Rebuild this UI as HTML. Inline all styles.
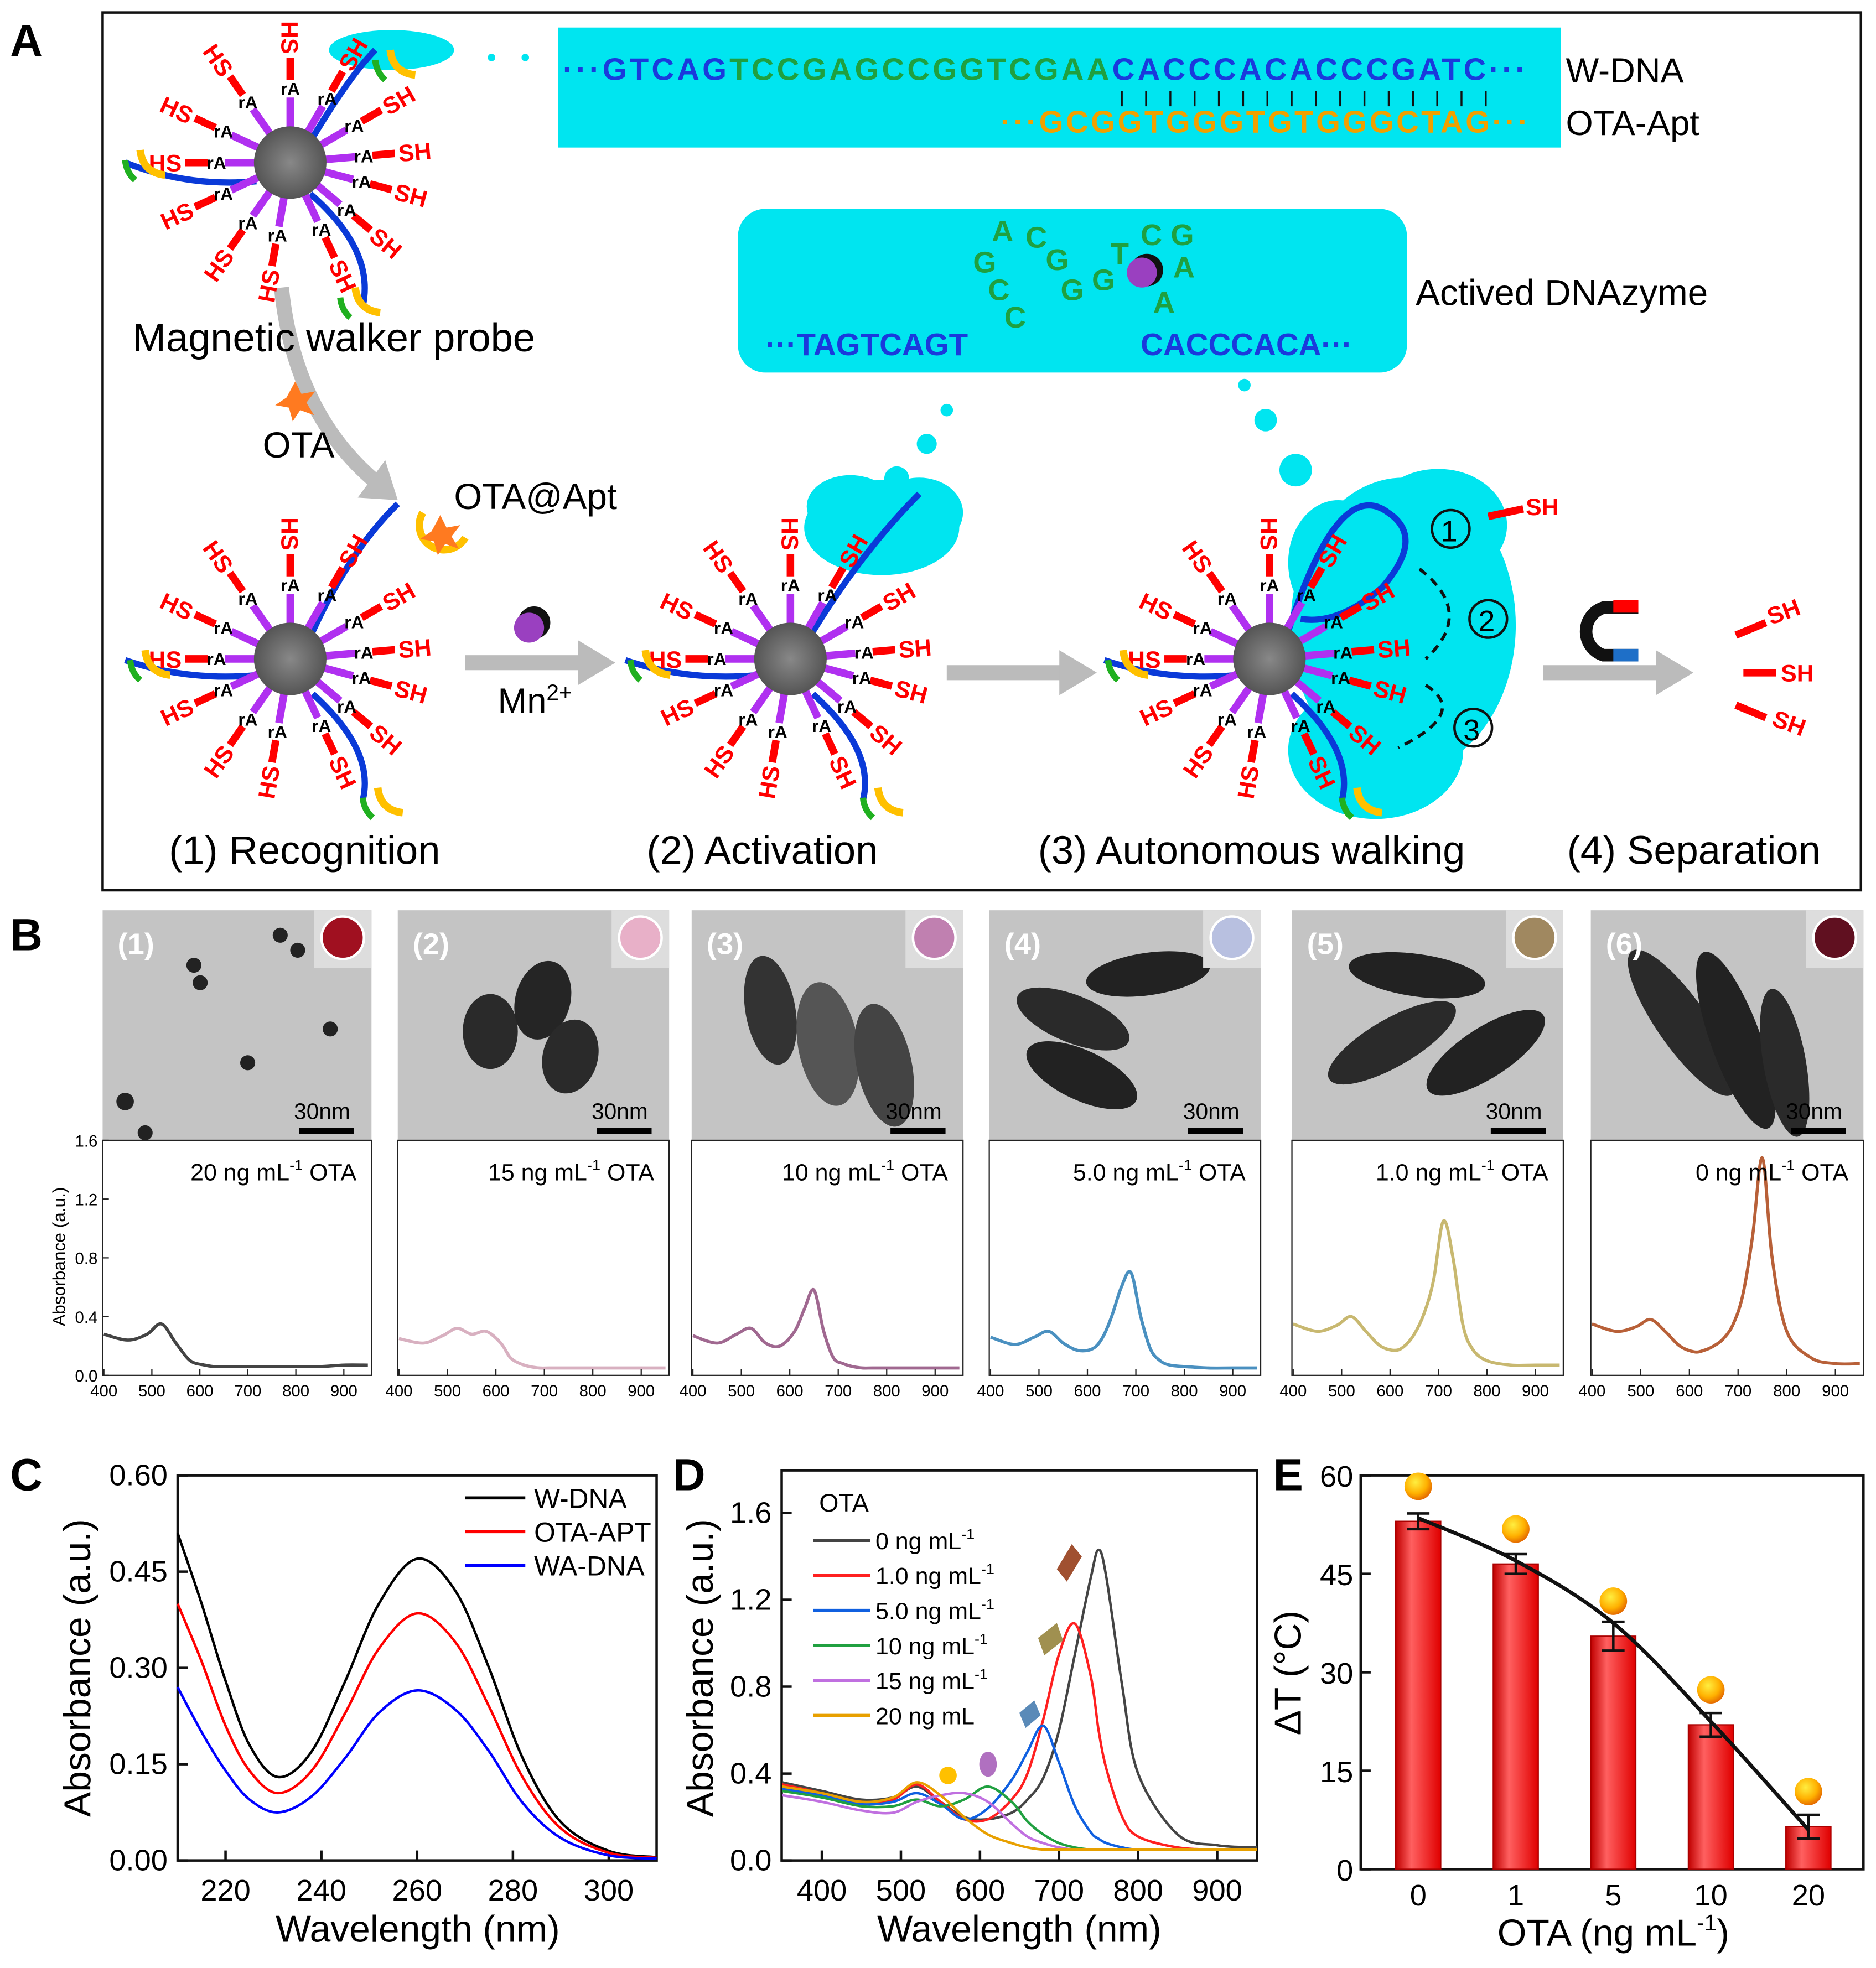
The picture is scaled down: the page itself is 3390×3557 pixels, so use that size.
<!DOCTYPE html>
<html><head><meta charset="utf-8"><style>
html,body{margin:0;padding:0;background:#fff}
svg{display:block}
text{font-family:"Liberation Sans",Arial,sans-serif}
</style></head><body>
<svg id="fig" width="3390" height="3557" viewBox="0 0 1500 1574" xmlns="http://www.w3.org/2000/svg">
<defs>
<radialGradient id="ball" cx="0.4" cy="0.35" r="0.7"><stop offset="0" stop-color="#ffee40"/><stop offset="0.6" stop-color="#ffb000"/><stop offset="1" stop-color="#e06000"/></radialGradient>
<linearGradient id="bar" x1="0" x2="1"><stop offset="0" stop-color="#c00000"/><stop offset="0.35" stop-color="#ff6060"/><stop offset="1" stop-color="#e00000"/></linearGradient>
<radialGradient id="np" cx="0.5" cy="0.5" r="0.5"><stop offset="0" stop-color="#888"/><stop offset="1" stop-color="#555"/></radialGradient>
</defs>
<g id="panelA">
<text x="8" y="45" font-size="36" font-weight="bold">A</text>
<rect x="82" y="10" width="1406" height="702" fill="none" stroke="#111" stroke-width="2"/>
<rect x="446" y="22" width="802" height="96" fill="#00e5f0"/>
<text x="450" y="64" font-size="25" font-weight="bold" textLength="770"><tspan fill="#1a3adc">···GTCAG</tspan><tspan fill="#1fa040">TCCGAGCCGGTCGAA</tspan><tspan fill="#1a3adc">CACCCACACCCGATC···</tspan></text>
<text x="800" y="106" font-size="25" font-weight="bold" fill="#f0a000" textLength="422">···GCGGTGGGTGTGGGCTAG···</text>
<g id="pairTicks" stroke="#111" stroke-width="1.5"></g>
<text x="1252" y="66" font-size="28">W-DNA</text>
<text x="1252" y="108" font-size="28">OTA-Apt</text>
<rect x="590" y="167" width="535" height="131" rx="22" fill="#00e5f0"/>
<text x="612" y="284" font-size="25" font-weight="bold" fill="#1a3adc">···TAGTCAGT</text>
<text x="912" y="284" font-size="25" font-weight="bold" fill="#1a3adc">CACCCACA···</text>
<g font-size="24" font-weight="bold" fill="#1fa040">
<text x="793" y="193">A</text><text x="820" y="198">C</text><text x="778" y="218">G</text><text x="836" y="216">G</text><text x="790" y="240">C</text><text x="848" y="240">G</text><text x="803" y="262">C</text><text x="873" y="232">G</text><text x="888" y="211">T</text><text x="912" y="196">C</text><text x="936" y="196">G</text><text x="938" y="222">A</text><text x="922" y="250">A</text>
</g>
<circle cx="917" cy="216" r="13" fill="#111"/><circle cx="913" cy="218" r="12" fill="#9a40c0"/>
<text x="1132" y="244" font-size="29">Actived DNAzyme</text>
<path d="M225,230 Q235,330 300,385" fill="none" stroke="#bbb" stroke-width="12"/><polygon points="286,398 318,400 308,368" fill="#bbb"/>
<text x="106" y="281" font-size="32">Magnetic walker probe</text>
<polygon points="236,305 241,315 252,313 245,322 251,332 240,328 234,337 231,326 220,324 229,318" fill="#ff7a20"/>
<text x="210" y="366" font-size="29">OTA</text>
<text x="363" y="407" font-size="29">OTA@Apt</text>
<path d="M338,410 A18,18 0 1,0 372,430" fill="none" stroke="#ffc000" stroke-width="6"/>
<polygon points="352,412 357,422 368,420 361,429 367,439 356,435 350,444 347,433 336,431 345,425" fill="#ff7a20"/>
<circle cx="427" cy="498" r="13" fill="#111"/><circle cx="423" cy="502" r="12" fill="#9a40c0"/>
<text x="398" y="570" font-size="28">Mn<tspan font-size="18" dy="-10">2+</tspan></text>
<g fill="#bbb">
<rect x="372" y="524" width="92" height="12"/><polygon points="462,512 492,530 462,548"/>
<rect x="757" y="532" width="92" height="12"/><polygon points="847,520 877,538 847,556"/>
<rect x="1234" y="532" width="92" height="12"/><polygon points="1324,520 1354,538 1324,556"/>
</g>
<g fill="#00e5f0">
<ellipse cx="313" cy="40" rx="50" ry="16"/>
<ellipse cx="705" cy="422" rx="62" ry="38"/><ellipse cx="680" cy="405" rx="35" ry="25"/><ellipse cx="735" cy="410" rx="35" ry="28"/>
<ellipse cx="1122" cy="500" rx="90" ry="118"/><ellipse cx="1100" cy="600" rx="70" ry="55"/><ellipse cx="1150" cy="420" rx="55" ry="45"/><ellipse cx="1070" cy="450" rx="40" ry="50"/>
<circle cx="393" cy="46" r="3"/><circle cx="420" cy="46" r="3"/><circle cx="757" cy="328" r="5"/><circle cx="741" cy="355" r="8"/><circle cx="717" cy="383" r="10"/>
<circle cx="995" cy="308" r="5"/><circle cx="1012" cy="336" r="9"/><circle cx="1036" cy="376" r="13"/>
</g>
<g id="particles"></g>
<g font-size="27">
<circle cx="1160" cy="423" r="15" fill="none" stroke="#111" stroke-width="2"/><text x="1152" y="433" font-size="24">1</text>
<circle cx="1190" cy="495" r="15" fill="none" stroke="#111" stroke-width="2"/><text x="1182" y="505" font-size="24">2</text>
<circle cx="1178" cy="582" r="15" fill="none" stroke="#111" stroke-width="2"/><text x="1170" y="592" font-size="24">3</text>
<path d="M1135,455 Q1180,490 1140,527" fill="none" stroke="#111" stroke-width="2.5" stroke-dasharray="7,5"/>
<path d="M1140,548 Q1175,570 1118,598" fill="none" stroke="#111" stroke-width="2.5" stroke-dasharray="7,5"/>
</g>
<g>
<line x1="1190" y1="413" x2="1218" y2="407" stroke="red" stroke-width="6"/><text x="1220" y="412" font-size="19" font-weight="bold" fill="red">SH</text>
<line x1="1388" y1="508" x2="1412" y2="498" stroke="red" stroke-width="6"/><text x="1416" y="500" font-size="19" font-weight="bold" fill="red" transform="rotate(-20 1416 500)">SH</text>
<line x1="1394" y1="538" x2="1420" y2="538" stroke="red" stroke-width="6"/><text x="1424" y="545" font-size="19" font-weight="bold" fill="red">SH</text>
<line x1="1388" y1="564" x2="1412" y2="574" stroke="red" stroke-width="6"/><text x="1416" y="580" font-size="19" font-weight="bold" fill="red" transform="rotate(20 1416 580)">SH</text>
</g>
<g>
<path d="M1310,486 L1282,486 A20,20 0 0,0 1282,524 L1310,524" fill="none" stroke="#111" stroke-width="10"/>
<rect x="1290" y="480" width="20" height="10" fill="red"/><rect x="1290" y="519" width="20" height="10" fill="#1e6fc8"/>
</g>
<g font-size="32">
<text x="135" y="691">(1) Recognition</text>
<text x="517" y="691">(2) Activation</text>
<text x="830" y="691">(3) Autonomous walking</text>
<text x="1253" y="691">(4) Separation</text>
</g>
</g>

<g id="panelB">
<text x="8" y="760" font-size="36" font-weight="bold">B</text>
<g id="tem"></g>
<g id="spectraB"></g>
</g>

<g id="panelC">
<text x="8" y="1192" font-size="36" font-weight="bold">C</text>
<g id="cPlot"></g>
</g>
<g id="panelD">
<text x="538" y="1192" font-size="36" font-weight="bold">D</text>
<g id="dPlot"></g>
</g>
<g id="panelE">
<text x="1018" y="1192" font-size="36" font-weight="bold">E</text>
<g id="ePlot"></g>
</g>
</svg>
<script>
// ---- Panel C data ----
const cWave = [210,215,220,225,231,238,245,252,260,268,275,282,290,300,310];
const cWDNA = [0.51,0.40,0.28,0.18,0.13,0.17,0.28,0.40,0.47,0.42,0.30,0.16,0.06,0.015,0.005];
const cOTAAPT = [0.40,0.31,0.21,0.14,0.105,0.14,0.23,0.33,0.385,0.34,0.24,0.13,0.05,0.012,0.004];
const cWADNA = [0.27,0.20,0.14,0.095,0.075,0.10,0.16,0.23,0.265,0.235,0.17,0.09,0.035,0.008,0.003];
const cXTicks = [220,240,260,280,300];
const cYTicks = ["0.00","0.15","0.30","0.45","0.60"];
// ---- Panel D data ----
const dWave = [350,400,450,490,520,550,580,610,640,660,680,700,720,740,750,760,780,800,850,900,950];
const d0 = [.36,.32,.28,.29,.34,.27,.20,.19,.22,.28,.38,.60,.95,1.30,1.43,1.30,.80,.40,.12,.07,.06];
const d1 = [.35,.31,.27,.28,.35,.27,.19,.19,.28,.40,.65,.95,1.09,.85,.60,.42,.20,.11,.06,.05,.05];
const d5 = [.33,.30,.26,.27,.31,.26,.19,.24,.37,.50,.62,.45,.25,.13,.10,.08,.06,.05,.05,.05,.05];
const d10 = [.32,.29,.25,.25,.28,.25,.28,.34,.27,.18,.12,.08,.06,.05,.05,.05,.05,.05,.05,.05,.05];
const d15 = [.30,.27,.23,.22,.27,.30,.31,.27,.17,.11,.08,.06,.05,.05,.05,.05,.05,.05,.05,.05,.05];
const d20 = [.34,.31,.27,.29,.36,.30,.20,.12,.08,.06,.05,.05,.05,.05,.05,.05,.05,.05,.05,.05,.05];
const dLabels = ["0 ng mL","1.0 ng mL","5.0 ng mL","10 ng mL","15 ng mL","20 ng mL"];
const dXTicks = [400,500,600,700,800,900];
const dYTicks = ["0.0","0.4","0.8","1.2","1.6"];
// ---- Panel E data ----
const eCats = ["0","1","5","10","20"];
const eVals = [53,46.5,35.5,22,6.5];
const eErr = [1.2,1.5,2.2,1.8,1.8];
const eFit = [53.5,47,37.5,22.5,6];
const eYTicks = [0,15,30,45,60];
// ---- Panel B data ----
const bWave = [400,450,490,520,550,580,610,630,650,670,690,710,730,750,770,800,850,900,950];
const bS20 = [.28,.24,.28,.35,.22,.10,.07,.06,.06,.06,.06,.06,.06,.06,.06,.06,.06,.07,.07];
const bS15 = [.25,.22,.27,.32,.28,.30,.22,.12,.08,.06,.05,.05,.05,.05,.05,.05,.05,.05,.05];
const bS10 = [.27,.22,.28,.32,.22,.20,.30,.45,.58,.30,.12,.08,.06,.05,.05,.05,.05,.05,.05];
const bS5 = [.26,.21,.26,.30,.22,.17,.18,.25,.40,.60,.70,.40,.18,.10,.07,.06,.05,.05,.05];
const bS1 = [.35,.30,.34,.40,.30,.20,.17,.20,.28,.42,.65,1.05,.80,.35,.18,.10,.07,.07,.07];
const bS0 = [.35,.30,.33,.38,.30,.20,.16,.17,.20,.25,.35,.55,.95,1.48,.80,.30,.12,.08,.08];
const bLabels = ["20 ng mL","15 ng mL","10 ng mL","5.0 ng mL","1.0 ng mL","0 ng mL"];
const bXTicks = [400,500,600,700,800,900];
const bYTicks = ["0.0","0.4","0.8","1.2","1.6"];

const NS="http://www.w3.org/2000/svg";
function mk(parent,tag,attrs,txt){const e=document.createElementNS(NS,tag);for(const k in attrs)e.setAttribute(k,attrs[k]);if(txt!==undefined)e.textContent=txt;parent.appendChild(e);return e;}
function smooth(pts){let d="M"+pts[0][0].toFixed(1)+","+pts[0][1].toFixed(1);for(let i=0;i<pts.length-1;i++){const p0=pts[i-1]||pts[i],p1=pts[i],p2=pts[i+1],p3=pts[i+2]||p2;const c1=[p1[0]+(p2[0]-p0[0])/6,p1[1]+(p2[1]-p0[1])/6],c2=[p2[0]-(p3[0]-p1[0])/6,p2[1]-(p3[1]-p1[1])/6];d+=" C"+c1[0].toFixed(1)+","+c1[1].toFixed(1)+" "+c2[0].toFixed(1)+","+c2[1].toFixed(1)+" "+p2[0].toFixed(1)+","+p2[1].toFixed(1);}return d;}

// ---- Panel A particles ----
const pg=document.getElementById('particles');
const pt=document.getElementById('pairTicks');
for(let i=0;i<16;i++){const x=897+i*19.4;const l=mk(pt,'line',{x1:x,y1:73,x2:x,y2:85});

}
function particle(cx,cy,strands,name){
 const g=mk(pg,'g',{});
 
 
 const angs=[-90,-60,-30,-5,15,40,65,100,125,155,180,205,235];
 strands.forEach(s=>{mk(g,'path',{d:s,fill:'none',stroke:'#0a3ad8','stroke-width':5});});
 angs.forEach(a=>{const r=a*Math.PI/180,c=Math.cos(r),s=Math.sin(r);
  mk(g,'line',{x1:cx+c*28,y1:cy+s*28,x2:cx+c*52,y2:cy+s*52,stroke:'#b030f0','stroke-width':6});
  mk(g,'line',{x1:cx+c*66,y1:cy+s*66,x2:cx+c*84,y2:cy+s*84,stroke:'red','stroke-width':6});
  mk(g,'text',{x:cx+c*59,y:cy+s*59+5,'font-size':14,'font-weight':'bold','text-anchor':'middle'},'rA');
  mk(g,'text',{x:cx+c*100,y:cy+s*100+7,'font-size':19,'font-weight':'bold',fill:'red','text-anchor':'middle',transform:`rotate(${(a>-90&&a<90)?a:a+180} ${cx+c*100} ${cy+s*100})`},(a>-90&&a<90)?'SH':'HS');
 });
 mk(g,'circle',{cx:cx,cy:cy,r:29,fill:'url(#np)'});
}
particle(232,130,["M250,110 Q280,60 300,40","M205,145 Q150,150 100,130","M248,155 Q300,200 290,245"],'walker-probe-1');
particle(232,527,["M250,505 Q280,440 318,403","M205,540 Q150,545 100,528","M250,555 Q300,600 290,640"],'walker-probe-2');
particle(632,527,["M650,505 Q690,440 735,395","M605,540 Q550,545 500,528","M650,555 Q700,600 690,640"],'walker-probe-3');
particle(1015,527,["M1030,505 Q1070,380 1110,410 Q1140,430 1105,470 Q1070,500 1040,495","M988,540 Q933,545 883,528","M1033,555 Q1083,600 1073,640"],'walker-probe-4');
[[100,120],[104,520],[504,520],[886,520],[272,230],[290,630],[690,630],[1073,630],[300,40]].forEach(p=>{
 const t=mk(pg,'path',{d:`M${p[0]+12},${p[1]} q2,18 20,20`,fill:'none',stroke:'#ffc000','stroke-width':6});
 
 
 mk(pg,'path',{d:`M${p[0]},${p[1]+8} q1,10 8,16`,fill:'none',stroke:'#20b020','stroke-width':5});
});

// ---- Panel B ----
const temX=[82,318,553,791,1033,1272];
const temW=[215,217,217,217,217,218];
const inset=['#a01020','#e8b0c8','#c080b0','#b8c0e0','#a08860','#601020'];
const tem=document.getElementById('tem');
const shapes=[
 ()=>[[155,772,6,6],[160,786,6,6],[224,748,6,6],[238,760,6,6],[264,823,6,6],[198,850,6,6],[100,881,7,7],[116,906,6,6]].map(p=>`<ellipse cx="${p[0]}" cy="${p[1]}" rx="${p[2]}" ry="${p[3]}" fill="#222"/>`).join(''),
 ()=>`<ellipse cx="392" cy="825" rx="22" ry="30" fill="#2a2a2a"/><ellipse cx="434" cy="800" rx="22" ry="32" fill="#252525" transform="rotate(15 434 800)"/><ellipse cx="456" cy="845" rx="22" ry="30" fill="#2a2a2a" transform="rotate(15 456 845)"/>`,
 ()=>`<ellipse cx="616" cy="808" rx="20" ry="44" fill="#333" transform="rotate(-10 616 808)"/><ellipse cx="662" cy="835" rx="24" ry="50" fill="#555" transform="rotate(-10 662 835)"/><ellipse cx="707" cy="852" rx="22" ry="50" fill="#444" transform="rotate(-12 707 852)"/>`,
 ()=>`<ellipse cx="918" cy="779" rx="50" ry="17" fill="#222" transform="rotate(-8 918 779)"/><ellipse cx="858" cy="815" rx="48" ry="19" fill="#2a2a2a" transform="rotate(22 858 815)"/><ellipse cx="865" cy="860" rx="48" ry="20" fill="#222" transform="rotate(25 865 860)"/>`,
 ()=>`<ellipse cx="1133" cy="780" rx="55" ry="17" fill="#222" transform="rotate(8 1133 780)"/><ellipse cx="1113" cy="834" rx="58" ry="19" fill="#2a2a2a" transform="rotate(-30 1113 834)"/><ellipse cx="1188" cy="842" rx="55" ry="20" fill="#222" transform="rotate(-33 1188 842)"/>`,
 ()=>`<ellipse cx="1345" cy="818" rx="20" ry="70" fill="#2a2a2a" transform="rotate(-35 1345 818)"/><ellipse cx="1388" cy="832" rx="20" ry="75" fill="#222" transform="rotate(-20 1388 832)"/><ellipse cx="1427" cy="850" rx="17" ry="60" fill="#2a2a2a" transform="rotate(-10 1427 850)"/>`
];
temX.forEach((x,k)=>{
 const g=mk(tem,'g',{});
 
 
 mk(g,'rect',{x:x,y:728,width:temW[k],height:184,fill:'#c4c4c4'});
 g.insertAdjacentHTML('beforeend',shapes[k]());
 mk(g,'rect',{x:x+temW[k]-46,y:728,width:46,height:46,fill:'#ddd'});
 mk(g,'circle',{cx:x+temW[k]-23,cy:750,r:17,fill:inset[k],stroke:'#fff','stroke-width':2});
 mk(g,'text',{x:x+12,y:763,'font-size':24,'font-weight':'bold',fill:'#fff'},'('+(k+1)+')');
 mk(g,'rect',{x:x+temW[k]-58,y:902,width:44,height:5,fill:'#000'});
 mk(g,'text',{x:x+temW[k]-62,y:895,'font-size':18},'30nm');
});
const spB=document.getElementById('spectraB');
const bSeries=[bS20,bS15,bS10,bS5,bS1,bS0];
const bCols=['#444','#d8b0c0','#a06890','#4a90c0','#c8b870','#b86038'];
function by(v){return 1100-v*117.5;}
temX.forEach((x0,k)=>{
 const w=temW[k];
 function bx(wl){return x0+1+(wl-400)*(w-2)/555;}
 const g=mk(spB,'g',{});
 
 
 mk(g,'rect',{x:x0,y:912,width:w,height:188,fill:'none',stroke:'#222','stroke-width':1});
 const p=mk(g,'path',{d:smooth(bWave.map((wl,i)=>[bx(wl),by(bSeries[k][i])])),fill:'none',stroke:bCols[k],'stroke-width':2.5});
 
 
 const lt=mk(g,'text',{x:x0+w-12,y:944,'font-size':19,'text-anchor':'end'});
 lt.innerHTML=bLabels[k]+'<tspan font-size="12" dy="-8">-1</tspan><tspan dy="8"> OTA</tspan>';
 bXTicks.forEach(t=>{mk(g,'line',{x1:bx(t),y1:1100,x2:bx(t),y2:1095,stroke:'#222'});
  mk(g,'text',{x:bx(t),y:1117,'font-size':13,'text-anchor':'middle'},t);});
});
const byAx=mk(spB,'g',{});


bYTicks.forEach(t=>{mk(byAx,'text',{x:78,y:by(+t)+5,'font-size':13,'text-anchor':'end'},t);mk(byAx,'line',{x1:82,y1:by(+t),x2:87,y2:by(+t),stroke:'#222'});});
mk(byAx,'text',{x:52,y:1005,'font-size':14,'text-anchor':'middle',transform:'rotate(-90 52 1005)'},'Absorbance (a.u.)');

// ---- Panel C ----
const cg=document.getElementById('cPlot');
function cx(w){return 142+(w-210)*3.83;}
function cy(v){return 1488-v*513.3;}
mk(cg,'rect',{x:142,y:1180,width:383,height:308,fill:'none',stroke:'#111','stroke-width':2});
cXTicks.forEach(t=>{mk(cg,'line',{x1:cx(t),y1:1488,x2:cx(t),y2:1480,stroke:'#111','stroke-width':2});mk(cg,'text',{x:cx(t),y:1520,'font-size':24,'text-anchor':'middle'},t);});
cYTicks.forEach(t=>{mk(cg,'line',{x1:142,y1:cy(+t),x2:150,y2:cy(+t),stroke:'#111','stroke-width':2});mk(cg,'text',{x:134,y:cy(+t)+8,'font-size':24,'text-anchor':'end'},t);});
mk(cg,'text',{x:334,y:1553,'font-size':30,'text-anchor':'middle'},'Wavelength (nm)');
mk(cg,'text',{x:72,y:1334,'font-size':30,'text-anchor':'middle',transform:'rotate(-90 72 1334)'},'Absorbance (a.u.)');
const cSer=[[cWDNA,'#000','W-DNA'],[cOTAAPT,'#ff0000','OTA-APT'],[cWADNA,'#0000ff','WA-DNA']];
cSer.forEach((s,i)=>{
 const p=mk(cg,'path',{d:smooth(cWave.map((w,j)=>[cx(w),cy(s[0][j])])),fill:'none',stroke:s[1],'stroke-width':2});
 
 
 const ly=1198+i*27;
 const le=mk(cg,'line',{x1:372,y1:ly,x2:420,y2:ly,stroke:s[1],'stroke-width':2.5});
 
 
 mk(cg,'text',{x:427,y:ly+8,'font-size':22},s[2]);
});

// ---- Panel D ----
const dg=document.getElementById('dPlot');
function dx(w){return 625.5+(w-350)*0.6323;}
function dy(v){return 1488-v*173.75;}
mk(dg,'rect',{x:625,y:1176,width:380,height:312,fill:'none',stroke:'#111','stroke-width':2});
dXTicks.forEach(t=>{mk(dg,'line',{x1:dx(t),y1:1488,x2:dx(t),y2:1480,stroke:'#111','stroke-width':2});mk(dg,'text',{x:dx(t),y:1520,'font-size':24,'text-anchor':'middle'},t);});
dYTicks.forEach(t=>{mk(dg,'line',{x1:625,y1:dy(+t),x2:633,y2:dy(+t),stroke:'#111','stroke-width':2});mk(dg,'text',{x:617,y:dy(+t)+8,'font-size':24,'text-anchor':'end'},t);});
mk(dg,'text',{x:815,y:1553,'font-size':30,'text-anchor':'middle'},'Wavelength (nm)');
mk(dg,'text',{x:570,y:1334,'font-size':30,'text-anchor':'middle',transform:'rotate(-90 570 1334)'},'Absorbance (a.u.)');
const dSer=[d0,d1,d5,d10,d15,d20];
const dCols=['#444','#ff2020','#1060e0','#20a040','#c070e0','#e8a000'];
mk(dg,'text',{x:655,y:1209,'font-size':20},'OTA');
dSer.forEach((s,i)=>{
 const p=mk(dg,'path',{d:smooth(dWave.map((w,j)=>[dx(w),dy(s[j])])),fill:'none',stroke:dCols[i],'stroke-width':2});
 
 
 const ly=1232+i*28;
 const le=mk(dg,'line',{x1:650,y1:ly,x2:696,y2:ly,stroke:dCols[i],'stroke-width':2.5});
 
 
 const t=mk(dg,'text',{x:700,y:ly+7,'font-size':19});
 t.innerHTML=dLabels[i]+(i<5?'<tspan font-size="12" dy="-8">-1</tspan>':'');
});
dg.insertAdjacentHTML('beforeend','<circle cx="758" cy="1420" r="7" fill="#ffc000"/><ellipse cx="790" cy="1411" rx="7" ry="10" fill="#b070c0"/><path d="M815,1370 l12,-10 l5,12 l-12,10z" fill="#5a8ab8"/><path d="M830,1310 l15,-12 l5,14 l-15,12z" fill="#a09050"/><path d="M845,1255 l12,-20 l8,10 l-12,20z" fill="#a05030"/>');

// ---- Panel E ----
const eg=document.getElementById('ePlot');
function ex(i){return 1134+i*78;}
function ey(v){return 1495-v*5.25;}
mk(eg,'rect',{x:1088,y:1180,width:402,height:315,fill:'none',stroke:'#111','stroke-width':2});
eYTicks.forEach(t=>{mk(eg,'line',{x1:1088,y1:ey(t),x2:1096,y2:ey(t),stroke:'#111','stroke-width':2});mk(eg,'text',{x:1082,y:ey(t)+9,'font-size':24,'text-anchor':'end'},t);});
eCats.forEach((c,i)=>{mk(eg,'line',{x1:ex(i),y1:1495,x2:ex(i),y2:1487,stroke:'#111','stroke-width':2});mk(eg,'text',{x:ex(i),y:1524,'font-size':24,'text-anchor':'middle'},c);});
eVals.forEach((v,i)=>{
 const b=mk(eg,'rect',{x:ex(i)-18,y:ey(v),width:36,height:ey(0)-ey(v),fill:'url(#bar)',stroke:'#a00','stroke-width':1});
 
 
 mk(eg,'line',{x1:ex(i),y1:ey(v+eErr[i]),x2:ex(i),y2:ey(v-eErr[i]),stroke:'#111','stroke-width':2});
 mk(eg,'line',{x1:ex(i)-9,y1:ey(v+eErr[i]),x2:ex(i)+9,y2:ey(v+eErr[i]),stroke:'#111','stroke-width':2});
 mk(eg,'line',{x1:ex(i)-9,y1:ey(v-eErr[i]),x2:ex(i)+9,y2:ey(v-eErr[i]),stroke:'#111','stroke-width':2});
 const ball=mk(eg,'circle',{cx:ex(i),cy:ey(v)-28,r:11,fill:'url(#ball)'});
 
 
});
const fit=mk(eg,'path',{d:smooth(eFit.map((v,i)=>[ex(i),ey(v)])),fill:'none',stroke:'#111','stroke-width':3});


const xt=mk(eg,'text',{x:1290,y:1556,'font-size':30,'text-anchor':'middle'});
xt.innerHTML='OTA (ng mL<tspan font-size="18" dy="-12">-1</tspan><tspan dy="12">)</tspan>';
mk(eg,'text',{x:1040,y:1338,'font-size':30,'text-anchor':'middle',transform:'rotate(-90 1040 1338)'},'ΔT (°C)');
</script>
</body></html>
